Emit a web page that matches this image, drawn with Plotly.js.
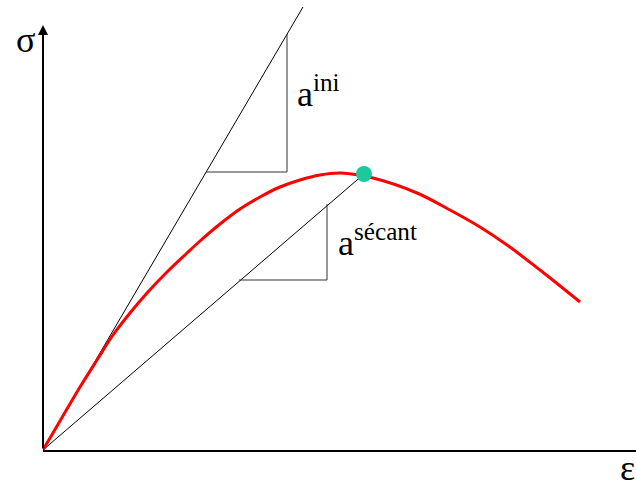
<!DOCTYPE html>
<html>
<head>
<meta charset="utf-8">
<script src="https://cdn.plot.ly/plotly-3.0.1.min.js"></script>
<style>
  html, body { margin: 0; padding: 0; background: #fff; }
  #plot { width: 636px; height: 482px; }
  #plot .annotation-text, #plot .annotation-text tspan {
    font-family: "Liberation Serif", "Times New Roman", Tinos, "DejaVu Serif", serif !important;
  }
</style>
</head>
<body>
<div id="plot"></div>
<script>
/* stress-strain curve (arbitrary units) */
var strainValue = [0, 0.17, 0.37, 0.54, 0.70, 0.87, 1.04, 1.24, 1.44, 1.57, 1.77, 1.97, 2.17, 2.37, 2.57, 2.77, 2.97, 3.30, 3.74, 4.07, 4.37, 4.64, 4.97, 5.37];
var stressValue = [0, 0.29, 0.63, 0.90, 1.15, 1.37, 1.57, 1.78, 1.97, 2.09, 2.26, 2.41, 2.53, 2.63, 2.70, 2.75, 2.77, 2.72, 2.57, 2.40, 2.23, 2.05, 1.80, 1.48];

/* initial tangent and its slope triangle */
var xTangent = [0, 2.60];
var yTangent = [0, 4.43];
var xTriIni = [1.63, 2.44, 2.44];
var yTriIni = [2.78, 2.78, 4.16];

/* secant to the peak point and its slope triangle */
var xPeak = [3.21];
var yPeak = [2.76];
var xTriSec = [1.96, 2.84, 2.84];
var yTriSec = [1.70, 1.70, 2.46];

var tangent = {
  x: xTangent,
  y: yTangent,
  mode: "lines",
  line: { color: "#000", width: 1 },
  hoverinfo: "skip"
};

var triIni = {
  x: xTriIni,
  y: yTriIni,
  mode: "lines",
  line: { color: "#333", width: 1 },
  hoverinfo: "skip"
};

var secant = {
  x: [0, xPeak[0]],
  y: [0, yPeak[0]],
  mode: "lines",
  line: { color: "#000", width: 1 },
  hoverinfo: "skip"
};

var triSec = {
  x: xTriSec,
  y: yTriSec,
  mode: "lines",
  line: { color: "#333", width: 1 },
  hoverinfo: "skip"
};

var curve = {
  x: strainValue,
  y: stressValue,
  mode: "lines",
  line: { color: "#ff0000", width: 3, shape: "spline", smoothing: 1 }
};

var peak = {
  x: xPeak,
  y: yPeak,
  mode: "markers",
  marker: { color: "#1cc99a", size: 16 },
  cliponaxis: false
};

var txtFont = { family: "Liberation Serif", size: 36, color: "#000" };

var layout = {
  width: 636,
  height: 482,
  margin: { l: 43, r: 0, t: 0, b: 32 },
  showlegend: false,
  paper_bgcolor: "#fff",
  plot_bgcolor: "#fff",
  font: { family: "Liberation Serif" },
  xaxis: {
    range: [0, 5.93],
    showline: true, linecolor: "#000", linewidth: 2,
    showgrid: false, zeroline: false, showticklabels: false, ticks: ""
  },
  yaxis: {
    range: [0, 4.5],
    showline: false,
    showgrid: false, zeroline: false, showticklabels: false, ticks: ""
  },
  annotations: [
    // y axis with arrow
    { x: 0, y: 4.25, ax: 0, ay: 0, axref: "x", ayref: "y", xref: "x", yref: "y",
      text: "", showarrow: true, arrowhead: 2, arrowsize: 1, arrowwidth: 2, arrowcolor: "#000" },
    // axis symbols sit outside the plot area, so place them on paper
    { x: -0.03, y: 0.91, xref: "paper", yref: "paper", xanchor: "center", yanchor: "middle",
      text: "σ", showarrow: false, font: txtFont },
    { x: 0.985, y: -0.04, xref: "paper", yref: "paper", xanchor: "center", yanchor: "middle",
      text: "ε", showarrow: false, font: txtFont },
    { x: 2.52, y: 3.34, xref: "x", yref: "y", xanchor: "left", yanchor: "bottom",
      text: "a<sup>ini</sup>", showarrow: false, font: txtFont },
    { x: 2.93, y: 1.85, xref: "x", yref: "y", xanchor: "left", yanchor: "bottom",
      text: "a<sup>sécant</sup>", showarrow: false, font: txtFont }
  ]
};

var data = [tangent, triIni, secant, triSec, curve, peak];

Plotly.newPlot("plot", data, layout, { staticPlot: true });
</script>
</body>
</html>
